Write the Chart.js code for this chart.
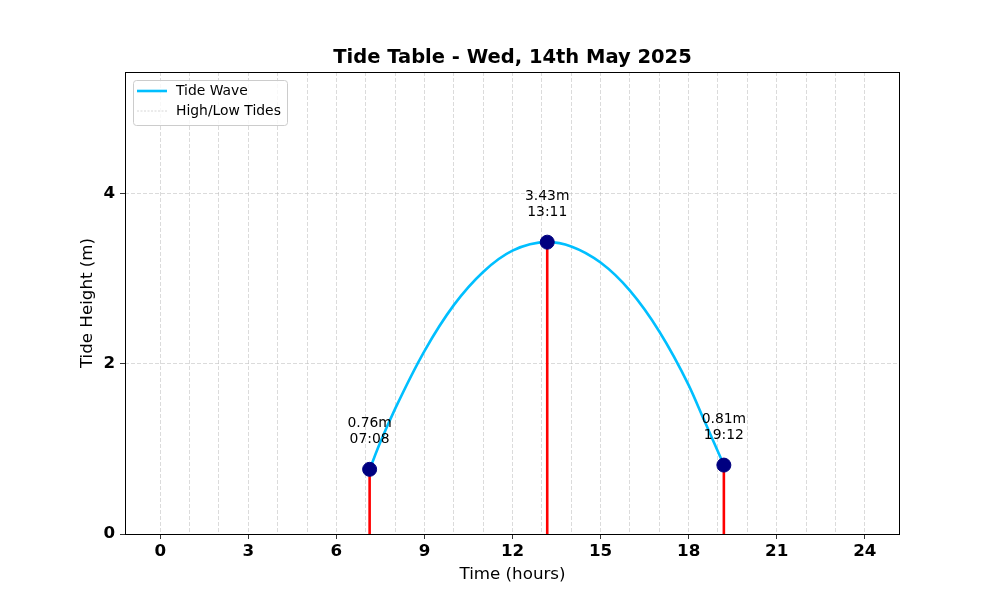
<!DOCTYPE html>
<html>
<head>
<meta charset="utf-8">
<script src="https://cdn.jsdelivr.net/npm/chart.js@4.4.0/dist/chart.umd.min.js"></script>
<style>
	html, body { margin: 0; background: #fff; }
	#wrap { width: 1000px; height: 600px; }
</style>
</head>
<body>
<div id="wrap"><canvas id="tideChart"></canvas></div>
<script>
// high / low tides
var tideTimes = [7.133, 13.183, 19.2];
var tideHeights = [0.76, 3.43, 0.81];
var tideClock = ['07:08', '13:11', '19:12'];

// tide wave
var waveHours = [7.133, 7.5, 8, 9, 10, 11, 12, 13.183, 14, 15, 16, 17, 18, 18.5, 19.2];
var waveHeights = [0.76, 1.08, 1.47, 2.15, 2.69, 3.08, 3.33, 3.43, 3.38, 3.19, 2.86, 2.38, 1.75, 1.36, 0.81];

// axes
var hourTicks = [0, 1, 2, 3, 4, 5, 6, 7, 8, 9, 10, 11, 12, 13, 14, 15, 16, 17, 18, 19, 20, 21, 22, 23, 24];
var heightTicks = [0, 2, 4];

var titleText = 'Tide Table - Wed, 14th May 2025';
var font = 'DejaVu Sans';
Chart.defaults.font.family = font;
Chart.defaults.color = '#000';

var wavePoints = waveHours.map(function (h, i) { return {x: h, y: waveHeights[i]}; });
var tidePoints = tideTimes.map(function (t, i) { return {x: t, y: tideHeights[i]}; });

var datasets = [{
	label: 'markers',
	type: 'scatter',
	data: tidePoints,
	pointRadius: 7,
	pointBackgroundColor: '#000080',
	pointBorderColor: '#000080',
	order: 0
}, {
	label: 'Tide Wave',
	type: 'line',
	data: wavePoints,
	borderColor: '#00BFFF',
	borderWidth: 2.6,
	pointRadius: 0,
	cubicInterpolationMode: 'monotone',
	fill: false,
	order: 1
}];
// one red stem per tide
tideTimes.forEach(function (t, i) {
	datasets.push({
		label: i === 0 ? 'High/Low Tides' : '',
		type: 'line',
		data: [{x: t, y: 0}, {x: t, y: tideHeights[i]}],
		borderColor: '#ff0000',
		borderWidth: 2.6,
		pointRadius: 0,
		fill: false,
		order: 2
	});
});

var extrasPlugin = {
	id: 'extras',
	afterDraw: function (chart) {
		var ctx = chart.ctx, a = chart.chartArea;
		var xs = chart.scales.x, ys = chart.scales.y;
		ctx.save();
		// frame
		ctx.strokeStyle = '#000';
		ctx.lineWidth = 1;
		ctx.strokeRect(a.left + 0.5, a.top + 0.5, a.right - a.left - 1, a.bottom - a.top);

		// title
		ctx.fillStyle = '#000';
		ctx.font = 'bold 19.5px ' + font;
		ctx.textAlign = 'center';
		ctx.textBaseline = 'middle';
		ctx.fillText(titleText, (a.left + a.right) / 2, 58);

		// tide labels
		ctx.font = '13.9px ' + font;
		tideTimes.forEach(function (t, i) {
			var px = xs.getPixelForValue(t), py = ys.getPixelForValue(tideHeights[i]);
			ctx.fillText(tideHeights[i].toFixed(2) + 'm', px, py - 46);
			ctx.fillText(tideClock[i], px, py - 30);
		});

		// legend
		var lx = a.left + 8, ly = a.top + 8;
		ctx.beginPath();
		ctx.roundRect(lx + 0.5, ly + 0.5, 154, 45, 3);
		ctx.fillStyle = 'rgba(255,255,255,0.8)';
		ctx.fill();
		ctx.strokeStyle = '#cccccc';
		ctx.stroke();
		ctx.lineWidth = 2.6;
		ctx.strokeStyle = '#00BFFF';
		ctx.beginPath();
		ctx.moveTo(lx + 4, ly + 11);
		ctx.lineTo(lx + 34, ly + 11);
		ctx.stroke();
		ctx.lineWidth = 0.8;
		ctx.strokeStyle = '#cccccc';
		ctx.setLineDash([2, 1.5]);
		ctx.beginPath();
		ctx.moveTo(lx + 4, ly + 31);
		ctx.lineTo(lx + 34, ly + 31);
		ctx.stroke();
		ctx.setLineDash([]);
		ctx.fillStyle = '#000';
		ctx.textAlign = 'left';
		ctx.fillText('Tide Wave', lx + 43, ly + 11);
		ctx.fillText('High/Low Tides', lx + 43, ly + 31);
		ctx.restore();
	}
};

var ctx = document.getElementById('tideChart').getContext('2d');
var tideChart = new Chart(ctx, {
	data: { datasets: datasets },
	options: {
		responsive: true,
		maintainAspectRatio: false,
		animation: false,
		layout: { padding: { top: 72, right: 100, left: 0, bottom: 0 } },
		plugins: {
			legend: { display: false },
			title: { display: false },
			tooltip: { enabled: false }
		},
		scales: {
			x: {
				type: 'linear',
				min: -1.2,
				max: 25.2,
				afterBuildTicks: function (s) { s.ticks = hourTicks.map(function (v) { return {value: v}; }); },
				afterFit: function (s) { s.height = 66; },
				ticks: {
					autoSkip: false,
					maxRotation: 0,
					padding: 3,
					font: { size: 16.7, weight: 'bold' },
					callback: function (v) { return v % 3 === 0 ? String(v) : ''; }
				},
				grid: {
					color: 'rgba(190,190,190,0.7)',
					lineWidth: 0.8,
					tickLength: 5,
					tickBorderDash: [],
					tickColor: function (c) { return c.tick && c.tick.value % 3 === 0 ? '#000' : 'rgba(0,0,0,0)'; }
				},
				border: { display: false, dash: [4, 2] },
				title: {
					display: true,
					text: 'Time (hours)',
					font: { size: 16.7 },
					padding: { top: 4, bottom: 15 }
				}
			},
			y: {
				type: 'linear',
				min: 0,
				max: 5.43,
				afterBuildTicks: function (s) { s.ticks = heightTicks.map(function (v) { return {value: v}; }); },
				afterFit: function (s) { s.width = 125; },
				ticks: {
					padding: 5,
					font: { size: 16.7, weight: 'bold' }
				},
				grid: {
					color: 'rgba(190,190,190,0.7)',
					lineWidth: 0.8,
					tickLength: 5,
					tickBorderDash: [],
					tickColor: '#000'
				},
				border: { display: false, dash: [4, 2] },
				title: {
					display: true,
					text: 'Tide Height (m)',
					font: { size: 16.7 },
					padding: { top: 78, bottom: 4 }
				}
			}
		}
	},
	plugins: [extrasPlugin]
});
</script>
</body>
</html>
